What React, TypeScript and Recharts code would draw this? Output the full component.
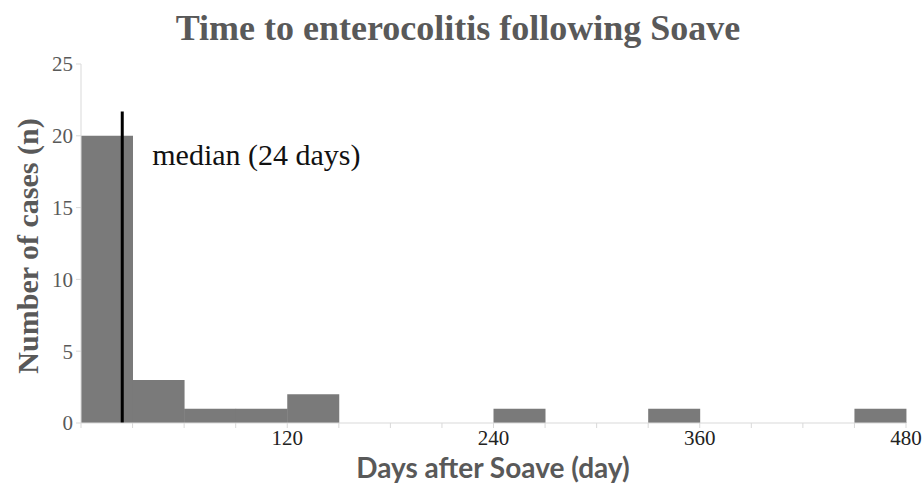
import { BarChart, Bar, XAxis, YAxis, ReferenceLine } from "recharts"

// histogram bins of 30 days, placed at the bin midpoints
const binMids = [15, 45, 75, 105, 135, 165, 195, 225, 255, 285, 315, 345, 375, 405, 435, 465]
const caseCounts = [20, 3, 1, 1, 2, 0, 0, 0, 1, 0, 0, 1, 0, 0, 0, 1]
const dayTicks = [0, 30, 60, 90, 120, 150, 180, 210, 240, 270, 300, 330, 360, 390, 420, 450, 480]
const dayLabels = [120, 240, 360, 480]
const caseTicks = [0, 5, 10, 15, 20, 25]
const medianDays = 24
const medianLineTop = 21.7

const data = binMids.map((mid, i) => ({ mid, cases: caseCounts[i] }))

const GRAY = "#595959"
const AXIS = "#d9d9d9"
const SERIF = "'Liberation Serif', 'Times New Roman', serif"

export default function App() {
  return (
    <div style={{ position: "absolute", left: 0, top: 0, width: 922, height: 488, background: "#fff" }}>
      <div
        style={{
          position: "absolute",
          left: 0,
          width: 916,
          top: 10,
          textAlign: "center",
          fontFamily: SERIF,
          fontWeight: "bold",
          fontSize: 36,
          lineHeight: "36px",
          color: GRAY,
        }}
      >
        Time to enterocolitis following Soave
      </div>
      <BarChart
        width={922}
        height={488}
        data={data}
        barCategoryGap={0}
        barGap={0}
        margin={{ top: 64, right: 16, left: 0, bottom: 30 }}
      >
        <XAxis
          dataKey="mid"
          type="number"
          domain={[0, 480]}
          ticks={dayTicks}
          interval={0}
          height={35}
          stroke={AXIS}
          tickSize={5}
          tickLine={{ stroke: AXIS }}
          tick={{ fill: "#222", fontFamily: SERIF, fontSize: 21 }}
          tickFormatter={(v: number) => (dayLabels.includes(v) ? String(v) : "")}
          label={{
            content: () => (
              <text
                x={493}
                y={478}
                textAnchor="middle"
                fill={GRAY}
                fontFamily="Lato, 'Open Sans', sans-serif"
                fontWeight="bold"
                fontSize={28}
              >
                Days after Soave (day)
              </text>
            ),
          }}
        />
        <YAxis
          domain={[0, 25]}
          ticks={caseTicks}
          width={81}
          stroke={AXIS}
          tickSize={5}
          tickMargin={3}
          tickLine={{ stroke: AXIS }}
          tick={{ fill: GRAY, fontFamily: SERIF, fontSize: 21 }}
          label={{
            content: () => (
              <text
                x={27}
                y={246}
                transform="rotate(-90 27 246)"
                textAnchor="middle"
                dominantBaseline="central"
                fill={GRAY}
                fontFamily={SERIF}
                fontWeight="bold"
                fontSize={30}
              >
                Number of cases (n)
              </text>
            ),
          }}
        />
        <Bar dataKey="cases" fill="#7a7a7a" isAnimationActive={false} />
        <ReferenceLine
          segment={[
            { x: medianDays, y: 0 },
            { x: medianDays, y: medianLineTop },
          ]}
          stroke="#000"
          strokeWidth={3}
          label={{
            content: (props: any) => (
              <text
                x={(props.viewBox?.x ?? 122) + 30}
                y={(props.viewBox?.y ?? 111) + 54}
                fill="#111"
                fontFamily={SERIF}
                fontSize={30}
              >
                median (24 days)
              </text>
            ),
          }}
        />
      </BarChart>
    </div>
  )
}
